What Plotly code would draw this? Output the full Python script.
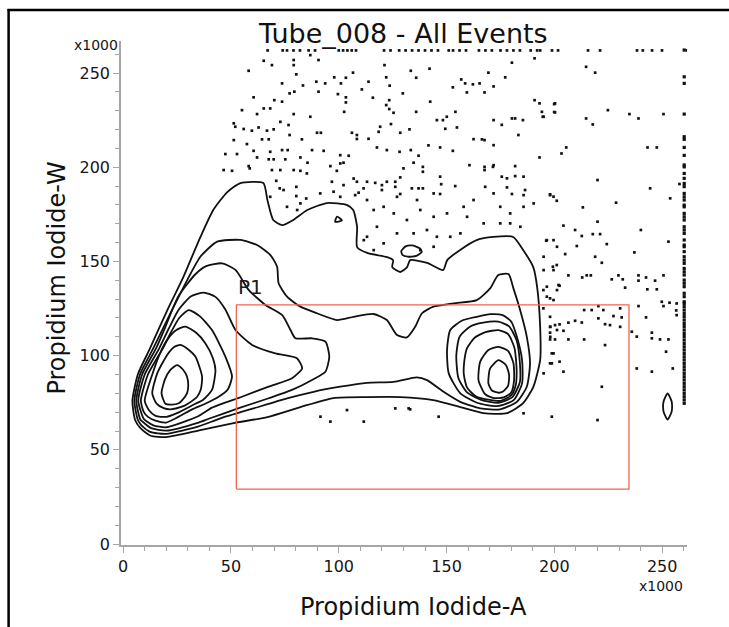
import plotly.graph_objects as go

# ---------------- axes ----------------
x_range = [-1, 261.5]
y_range = [-0.5, 267]
x_ticks = [0, 50, 100, 150, 200, 250]
y_ticks = [0, 50, 100, 150, 200, 250]

# ---------------- contour paths (thousands) ----------------
contour_1 = [(4.3,76),(6.8,90),(12.5,104),(20.5,124.2),(27.9,141.7),(35.8,162.9),(41.8,177.3),(48.3,186.8),
             (54.4,191.6),(65.0,191.6),(66.9,182.6),(69.6,172.0),(73.8,169.3),(78.9,172.0),(85.4,177.3),
             (94.6,181.0),(103.9,179.9),(106.7,177.3),(108.5,168.3),(108.5,157.6),(113.2,154.5),(122.4,152.3),
             (125.2,150.7),(124.8,147.0),(128.5,144.4),(131.7,147.0),(133.1,150.7),(141.0,149.2),(148.4,145.4),
             (150.3,150.7),(156.3,156.1),(164.2,161.4),(171.6,163.0),(180.9,163.0),(185.5,156.1),(190.2,147.0),
             (192.0,136.4),(193.4,115.2),(193.4,97.7),(190.2,83.3),(185.5,74.8),(178.1,69.5),(167.0,69.5),
             (156.3,72.7),(143.8,76.4),(128.5,78.0),(113.2,78.0),(97.5,77.5),(82.2,72.7),(66.9,67.4),(51.2,64.2),
             (35.8,60.5),(20,56.8),(12.7,57.5),(8.0,61.5),(5.5,66)]
contour_2 = [(5.2,76),(7.8,90),(14.0,104),(21.9,122.4),(29.7,140.1),(35.8,152.5),(43.6,160.5),(54.4,161.4),
             (62.1,158.7),(68.3,153.4),(71.4,147.2),(72.1,138.4),(76.0,131.3),(82.2,126.0),(89.9,122.5),
             (99.2,118.9),(106.9,120.6),(116.1,122.1),(122.3,118.9),(127.0,110.9),(131.6,109.7),(135.4,115.3),
             (138.6,122.5),(143.9,126.0),(153.2,127.8),(164.0,129.5),(170.2,135.7),(174.0,142.8),(178.7,143.3),
             (181.0,135.7),(184.1,124.2),(187.2,110.0),(188.7,95.9),(187.2,83.5),(182.6,75.5),(174.8,71.5),
             (165.6,72.0),(156.3,75.5),(148.6,80.8),(140.9,87.0),(136.2,88.5),(125.4,86.1),(113.1,85.6),
             (100.7,83.5),(88.3,80.8),(76.0,77.3),(60.5,72.0),(45.1,66.7),(35,62.5),(20,58.5),(12.5,59.5),
             (8.5,63),(6.8,66)]
contour_g1_3 = [(6.1,76),(8.8,90),(15.3,104),(19.5,115),(25.5,131.3),(33.5,143.2),(38.5,147.5),(45.9,149.0),
                (52.1,145.5),(58.2,134.9),(66.0,126.9),(73.7,121.6),(77.6,113.6),(79.9,109.2),(87.6,109.2),
                (93.8,107.4),(95.6,99.5),(93.8,91.5),(87.6,87.1),(78.3,81.8),(67.5,77.4),(53.6,72.1),(39.7,66.5),
                (35,64.5),(20,60.2),(13,61.5),(9.5,64.5),(8.0,66)]
contour_g1_4 = [(7.0,76),(10.0,90),(16.8,104),(21,114),(25.8,124.5),(31.5,131.5),(37.4,133.5),(42.8,131.2),
                (47.4,124.5),(52.1,113.6),(59.8,105.7),(70.6,101.2),(80.6,98.6),(83.0,93.3),(78.3,88.0),
                (67.5,83.6),(55.1,78.2),(41.2,72.4),(35,68),(20,62),(14,63),(11,65),(9.5,66.5)]
contour_g1_5 = [(8.2,76),(11.5,90),(18.5,104),(22,112),(26,120),(30.4,124.2),(35.5,121),(41.2,113.6),
                (47.4,99.5),(50.5,88.9),(48.5,82),(44.3,78.2),(38,74.5),(32.0,71.5),(20,64.5),(15,65.5),
                (11.5,67.5),(9.6,70)]
contour_g1_6 = [(10.0,76),(13.5,90),(17,101),(20.5,108.5),(24.5,113.5),(28.9,115.4),(34,112),(38.1,106.6),
                (41.5,99),(42.8,92.4),(41.2,81.8),(37,76.5),(33.5,74.5),(25,69.5),(20,67.5),(15,68),(12,71)]
contour_g1_7 = [(13.5,80),(15.8,90.6),(20.4,100.4),(23.5,104.5),(26.6,105.7),(30.5,103),(33.5,99.5),
                (36.6,88.9),(36,82),(34.3,78.2),(30,74.5),(27.3,72.9),(22,71.5),(18.8,72.1),(15.5,74.5)]
contour_g1_8 = [(17.8,80),(19.3,87.1),(21.9,92.4),(25.0,95.0),(27.8,92.5),(29.6,88.9),(30.2,84),(29.6,80.0),
                (27.5,76.5),(25.8,74.7),(22.5,74),(19.6,74.5)]
contour_g2_3 = [(150.2,103.0),(151.7,113.6),(157,118.5),(164,120.6),(170.3,122),(176,121.5),(180,118),
                (182.6,110.0),(185.0,97.7),(185.0,85.3),(181.1,76.4),(173.4,73.2),(164.1,75),(156.4,80.0),
                (151.0,90.6)]
contour_g2_4 = [(154.5,100),(156,110),(161,115.5),(167,117.5),(174,118),(179,115.5),(182.5,108),(184,96),
                (184,86),(180.5,78),(174,75),(166,76.5),(159.5,80.5),(155.5,88)]
contour_g2_5 = [(158.2,97),(159.5,104),(163,109.5),(168,112.5),(174,113.5),(178.5,111.5),(181.5,104),
                (182.5,92),(182,84),(180,79),(175,76),(170,76.5),(163.5,78.5),(159.5,83),(158,90)]
contour_g2_6 = [(164.8,87),(165.6,96.8),(169.4,103),(174.1,104.7),(178.5,102.5),(181,96),(181.3,87),
                (180,80.5),(176.5,77.8),(172,77.5),(167.9,79.5)]
contour_g2_7 = [(169.4,85.3),(170.2,93.2),(174.1,97.6),(177.5,95),(179,89.7),(178.5,84),(176,80.8),
                (174.1,80.3),(171,81.5)]
island_loop = [(129,155.5),(131,158),(134,158.5),(137.5,157),(138.5,155),(136,153),(132,152.5),(129.5,153.5)]
island_tri = [(98.3,171),(101.5,171.8),(99.2,173.8)]
island_right = [(252.5,66),(254.3,70),(254.6,73),(254.3,76),(252.5,80),(250.7,76),(250.4,73),(250.7,70)]

# ---------------- gate P1 ----------------
gate_x = [52.5, 234.6]
gate_y = [29.2, 126.9]
gate_label = "P1"
gate_label_pos = (59.1, 136.4)

# ---------------- single events (thousands) ----------------
top_row_x = [67, 74, 76, 79, 82, 86, 89, 100, 102, 104, 106, 108, 121, 124, 128, 131, 134, 137, 140, 143,
             146, 151, 153, 156, 159, 165, 168, 171, 175, 178, 181, 184, 189, 192, 193.4, 198.9, 201.7,
             215.6, 221.2, 238.3, 241, 245.3, 249.9, 261.5]
top_row_y = 262

right_col_y = [262.2, 248.0, 244.5, 228.2, 216.2, 214.8, 210.5, 206.3, 201.2, 200.2, 196.7, 194.1, 191.4,
               189.7, 186.1, 184.3, 182.6, 179.9, 179.0, 175.5, 173.7, 172.0, 168.4, 166.7, 164.9, 161.4,
               158.7, 157.8, 155.2, 152.5, 150.7, 149.0, 146.3, 144.5, 142.8, 140.1, 138.4, 136.6, 133.1,
               131.3, 128.6, 127.7, 126.0, 124.2, 122.4, 120.7, 118.9, 117.1, 115.4, 113.6, 111.8, 110.1,
               108.3, 106.5, 104.7, 103.0, 101.2, 99.4, 97.7, 95.9, 94.1, 92.4, 90.6, 88.8, 87.1, 85.3, 83.5,
               81.8, 80.0, 78.2, 76.5, 74.7]
right_col_x = 260.2

scatter_x = [65.2, 69.0, 79.1, 79.1, 86.8, 90.6, 58.2, 80.3, 89.6, 93.7, 97.9, 103.3, 101.0, 106.6, 113.8,
             121.2, 122.0, 133.4, 135.9, 142.1, 123.6, 73.7, 83.4, 90.6, 77.2, 79.4, 99.6, 103.3, 110.7, 129.7,
             115.8, 123.4, 142.4, 60.5, 70.1, 73.7, 55.1, 65.2, 68.2, 62.1, 79.1, 86.8, 103.3, 102.5, 123.4,
             125.4, 122.0, 135.9, 150.1, 154.1, 156.8, 152.9, 158.6, 162.2, 165.3, 159.4, 167.6, 171.8, 177.2,
             169.4, 180.3, 190.8, 190.8, 193.1, 200.3, 194.2, 200.3, 195.0, 171.8, 180.3, 181.8, 185.4, 175.6,
             183.3, 193.1, 162.5, 167.6, 171.8, 166.4, 145.5, 148.3, 149.4, 154.8, 132.8, 128.5, 124.2, 119.2,
             118.5, 113.8, 108.4, 106.1, 108.4, 117.7, 122.3, 128.2, 133.4, 137.0, 141.6, 147.0, 152.9, 160.6,
             167.6, 167.6, 171.5, 181.8, 51.3, 52.0, 55.9, 59.7, 62.8, 66.7, 69.8, 72.9, 76.7, 64.4, 67.5, 51.3,
             57.4, 89.9, 91.7, 77.2, 82.9, 60.5, 68.2, 73.7, 76.3, 52.8, 47.4, 87.6, 93.0, 100.7, 104.6, 62.1,
             67.5, 69.8, 75.2, 82.2, 85.5, 58.2, 58.7, 46.6, 50.5, 69.0, 72.9, 79.1, 82.2, 85.2, 96.1, 100.7,
             102.2, 99.1, 106.9, 108.4, 96.8, 102.2, 113.1, 116.9, 122.3, 120.0, 126.2, 126.2, 128.5, 130.0,
             134.7, 139.0, 139.0, 147.0, 147.5, 154.0, 139.0, 133.9, 137.0, 144.0, 147.0, 128.5, 127.0, 120.0,
             111.5, 109.2, 107.6, 97.6, 100.7, 91.4, 84.9, 80.3, 74.4, 71.0, 72.6, 68.2, 80.3, 171.8, 175.6,
             178.0, 181.8, 185.7, 167.9, 171.8, 178.0, 180.3, 186.4, 198.0, 185.7, 199.6,
             136.3, 157.9, 162.5, 174.9, 179.5, 185.7, 190.4, 174.9, 179.5, 184.2, 167.2, 159.5, 150.2, 144.0,
             137.8, 131.6, 125.5, 120.8, 116.2, 113.1, 117.7, 113.1, 120.8, 127.0, 134.7, 140.9, 145.5, 151.7,
             144.0, 137.8, 156.4, 116.2, 111.6, 82.2, 76.0, 80.7, 196.5, 199.6, 201.2, 195.0, 195.0, 199.6,
             196.5, 201.2, 199.6, 198.1, 201.2, 198.1, 199.6, 198.8, 195.0, 91.5, 96.1, 103.8, 111.6, 126.2,
             132.4, 146.3, 185.7, 198.8,
             194.9, 196.5, 198.0, 201.9, 194.9, 198.0, 198.0, 200.3, 202.4, 206.5, 209.6, 212.7, 204.2, 198.0,
             198.0, 200.3, 206.5, 213.8, 213.8, 217.3, 220.4, 222.7, 223.5, 225.8, 230.5, 231.2, 227.4, 230.5,
             220.4, 223.5, 198.8, 198.0, 202.4, 204.2, 222.0, 133.1, 220.0,
             214.7, 218.9, 199.9, 199.9, 194.6, 224.8, 234.8, 239.0, 250.6, 214.7, 217.8, 205.5, 203.3, 243.2,
             247.5, 220.0, 244.4, 198.0, 201.1, 228.6, 253.7, 213.2, 204.2, 209.6, 212.7, 217.8, 221.2, 220.0,
             240.1, 224.3, 252.9, 210.4, 196.2, 237.1, 205.0, 218.9, 222.0, 201.1, 199.3, 206.5, 212.9, 215.0,
             216.9, 226.6, 229.7, 231.7, 232.8, 239.0, 239.0, 242.5, 246.7, 250.6, 243.1, 247.5, 202.4, 249.8,
             250.6, 256.7, 239.0, 242.5, 238.2, 245.2, 245.2, 249.0, 252.9, 251.8, 256.7, 238.2, 245.2, 254.9,
             235.9, 253.4, 258.0, 256.5]
scatter_y = [256.5, 254.2, 256.9, 254.2, 259.5, 256.9, 251.2, 249.3, 245.4, 244.5, 247.7, 247.5, 244.5, 250.2,
             245.4, 254.2, 247.7, 251.2, 247.5, 252.3, 243.3, 244.5, 243.4, 240.1, 239.2, 240.1, 238.8, 237.1,
             241.3, 239.2, 236.9, 235.6, 234.8, 237.1, 235.6, 234.8, 230.3, 231.2, 231.2, 228.2, 228.2, 226.8,
             234.4, 229.4, 230.9, 228.9, 233.0, 229.4, 226.8, 229.4, 246.6, 242.4, 244.5, 244.0, 244.5, 239.7,
             239.7, 242.9, 247.7, 250.2, 255.5, 257.8, 235.6, 233.9, 233.9, 229.4, 229.1, 226.8, 225.0, 225.9,
             225.9, 225.0, 222.5, 217.1, 205.2, 214.9, 214.4, 211.7, 214.8, 225.0, 225.0, 220.4, 221.1, 220.1,
             218.3, 222.9, 221.5, 218.8, 215.1, 217.1, 218.3, 215.0, 210.5, 209.1, 208.2, 209.1, 206.1, 211.6,
             210.5, 208.7, 201.1, 200.2, 198.5, 200.2, 200.6, 223.3, 221.5, 220.3, 219.4, 221.1, 219.4, 220.1,
             224.1, 222.4, 214.8, 214.8, 214.4, 212.3, 218.3, 218.3, 217.1, 214.8, 208.7, 208.2, 209.1, 209.1,
             207.0, 207.0, 209.1, 208.7, 206.4, 206.1, 205.2, 204.2, 204.2, 204.2, 205.2, 202.4, 200.6, 199.4,
             198.5, 198.1, 198.5, 198.5, 198.5, 198.1, 196.7, 200.6, 202.0, 202.4, 198.1, 194.0, 192.3, 192.3,
             190.5, 192.3, 191.7, 192.3, 190.5, 192.3, 189.6, 194.6, 199.4, 202.4, 200.2, 197.6, 195.0, 191.0,
             190.0, 188.8, 188.8, 188.8, 186.1, 185.8, 185.8, 184.3, 187.9, 188.8, 186.5, 185.2, 187.0, 184.3,
             186.1, 183.4, 189.6, 187.9, 192.8, 188.8, 184.3, 184.7, 201.1, 195.0, 194.1, 195.3, 195.0, 189.6,
             186.1, 189.3, 185.8, 187.9, 185.2, 185.2, 184.4,
             182.6, 179.0, 182.6, 179.0, 175.5, 179.0, 180.8, 170.2, 170.2, 168.4, 170.2, 173.7, 175.5, 173.7,
             177.3, 172.0, 175.5, 179.0, 177.3, 182.6, 168.4, 163.1, 159.6, 164.9, 164.9, 166.7, 163.1, 163.1,
             157.8, 156.0, 164.9, 156.0, 161.3, 180.8, 179.0, 177.3, 161.3, 161.3, 157.8, 152.5, 145.4, 145.4,
             136.6, 134.8, 129.5, 115.3, 113.6, 110.0, 101.2, 95.9, 90.6, 67.6, 65.0, 71.1, 65.0, 72.0,
             72.0, 67.6, 69.4, 67.6,
             134.8, 131.3, 130.4, 137.5, 125.1, 120.6, 115.3, 116.2, 116.6, 117.5, 118.5, 117.6, 113.2, 112.2,
             108.6, 108.6, 108.6, 108.6, 124.2, 124.2, 126.3, 124.2, 116.7, 116.2, 115.3, 120.3, 121.0, 125.1,
             119.8, 105.6, 101.2, 95.9, 96.8, 91.5, 83.5, 71.5, 65.8,
             253.3, 250.2, 233.5, 229.3, 226.8, 230.3, 228.2, 225.9, 228.2, 225.9, 222.7, 210.5, 207.3, 210.5,
             210.5, 193.2, 188.8, 185.6, 182.2, 181.2, 183.5, 178.7, 169.0, 166.7, 163.5, 164.5, 164.5, 171.1,
             166.7, 159.2, 160.5, 158.2, 161.0, 154.8, 153.9, 152.5, 149.3, 148.1, 147.2, 142.6, 141.5, 142.6,
             142.6, 140.5, 142.6, 140.5, 136.1, 142.6, 139.8, 141.5, 139.8, 142.6, 135.2, 135.2, 137.1, 128.6,
             126.3, 127.7, 126.3, 120.3, 110.1, 112.2, 109.2, 108.6, 108.6, 102.1, 121.5, 93.2, 91.5, 93.2,
             112.7, 128.1, 191.1, 124.0]

# ---------------- styles ----------------
font_family = "DejaVu Sans, Verdana, sans-serif"
axis_grey = "#a6a6a6"
line_black = "#111111"
gate_red = "#f26452"

fig = go.Figure()


def closed(path):
    xs = [p[0] for p in path] + [path[0][0]]
    ys = [p[1] for p in path] + [path[0][1]]
    return xs, ys


all_contours = [contour_1, contour_2, contour_g1_3, contour_g1_4, contour_g1_5, contour_g1_6, contour_g1_7,
                contour_g1_8, contour_g2_3, contour_g2_4, contour_g2_5, contour_g2_6, contour_g2_7,
                island_loop, island_tri, island_right]
for path in all_contours:
    xs, ys = closed(path)
    fig.add_trace(go.Scatter(x=xs, y=ys, mode="lines", hoverinfo="skip",
                             line=dict(color=line_black, width=1.8, shape="spline", smoothing=0.6)))

# events
fig.add_trace(go.Scatter(x=scatter_x, y=scatter_y, mode="markers", hoverinfo="skip",
                         marker=dict(symbol="square", size=2.7, color=line_black, line=dict(width=0))))
fig.add_trace(go.Scatter(x=top_row_x, y=[top_row_y] * len(top_row_x), mode="markers", hoverinfo="skip",
                         marker=dict(symbol="square", size=2.7, color=line_black, line=dict(width=0))))
fig.add_trace(go.Scatter(x=[right_col_x] * len(right_col_y), y=right_col_y, mode="markers", hoverinfo="skip",
                         marker=dict(symbol="square", size=3.2, color=line_black, line=dict(width=0))))

# gate
gx = [gate_x[0], gate_x[1], gate_x[1], gate_x[0], gate_x[0]]
gy = [gate_y[0], gate_y[0], gate_y[1], gate_y[1], gate_y[0]]
fig.add_trace(go.Scatter(x=gx, y=gy, mode="lines", hoverinfo="skip",
                         line=dict(color=gate_red, width=1.3)))

axis_common = dict(
    showgrid=False, zeroline=False, showline=True, linecolor=axis_grey, linewidth=1.5,
    ticks="outside", ticklen=6, tickwidth=1.3, tickcolor=axis_grey,
    tickfont=dict(family=font_family, size=16, color="#161616"),
    minor=dict(dtick=10, tick0=0, ticks="outside", ticklen=4, tickwidth=1.3, tickcolor=axis_grey),
    fixedrange=True,
)
fig.update_xaxes(range=x_range, tickvals=x_ticks, ticktext=[str(v) for v in x_ticks], **axis_common)
fig.update_yaxes(range=y_range, tickvals=y_ticks, ticktext=[str(v) for v in y_ticks], **axis_common)

L, R, T, B = 120.5, 42, 41, 82
PW, PH = 729 - L - R, 627 - T - B


def px_x(px):
    return (px - L) / PW


def px_y(py):
    return (627 - B - py) / PH


annotations = [
    dict(text="Tube_008 - All Events", x=px_x(403), y=px_y(33), xref="paper", yref="paper",
         showarrow=False, xanchor="center", yanchor="middle",
         font=dict(family=font_family, size=27, color="#111111")),
    dict(text="Propidium Iodide-A", x=px_x(413), y=px_y(607), xref="paper", yref="paper",
         showarrow=False, xanchor="center", yanchor="middle",
         font=dict(family=font_family, size=24, color="#111111")),
    dict(text="Propidium Iodide-W", x=px_x(56), y=px_y(278), xref="paper", yref="paper",
         showarrow=False, xanchor="center", yanchor="middle", textangle=-90,
         font=dict(family=font_family, size=24, color="#111111")),
    dict(text="x1000", x=px_x(95), y=px_y(45), xref="paper", yref="paper",
         showarrow=False, xanchor="center", yanchor="middle",
         font=dict(family=font_family, size=14, color="#161616")),
    dict(text="x1000", x=px_x(661), y=px_y(586), xref="paper", yref="paper",
         showarrow=False, xanchor="center", yanchor="middle",
         font=dict(family=font_family, size=14, color="#161616")),
    dict(text=gate_label, x=gate_label_pos[0], y=gate_label_pos[1], xref="x", yref="y",
         showarrow=False, xanchor="center", yanchor="middle",
         font=dict(family=font_family, size=20, color="#1a1a1a")),
]

shapes = [
    dict(type="line", xref="paper", yref="paper", x0=px_x(8), x1=px_x(8), y0=px_y(9), y1=px_y(640),
         line=dict(color="#000000", width=2.5)),
    dict(type="line", xref="paper", yref="paper", x0=px_x(7), x1=px_x(740), y0=px_y(10), y1=px_y(10),
         line=dict(color="#000000", width=2.5)),
]

fig.update_layout(
    width=729, height=627,
    margin=dict(l=L, r=R, t=T, b=B, pad=0),
    paper_bgcolor="white", plot_bgcolor="white",
    showlegend=False,
    annotations=annotations,
    shapes=shapes,
)

fig.write_html("out.html")
